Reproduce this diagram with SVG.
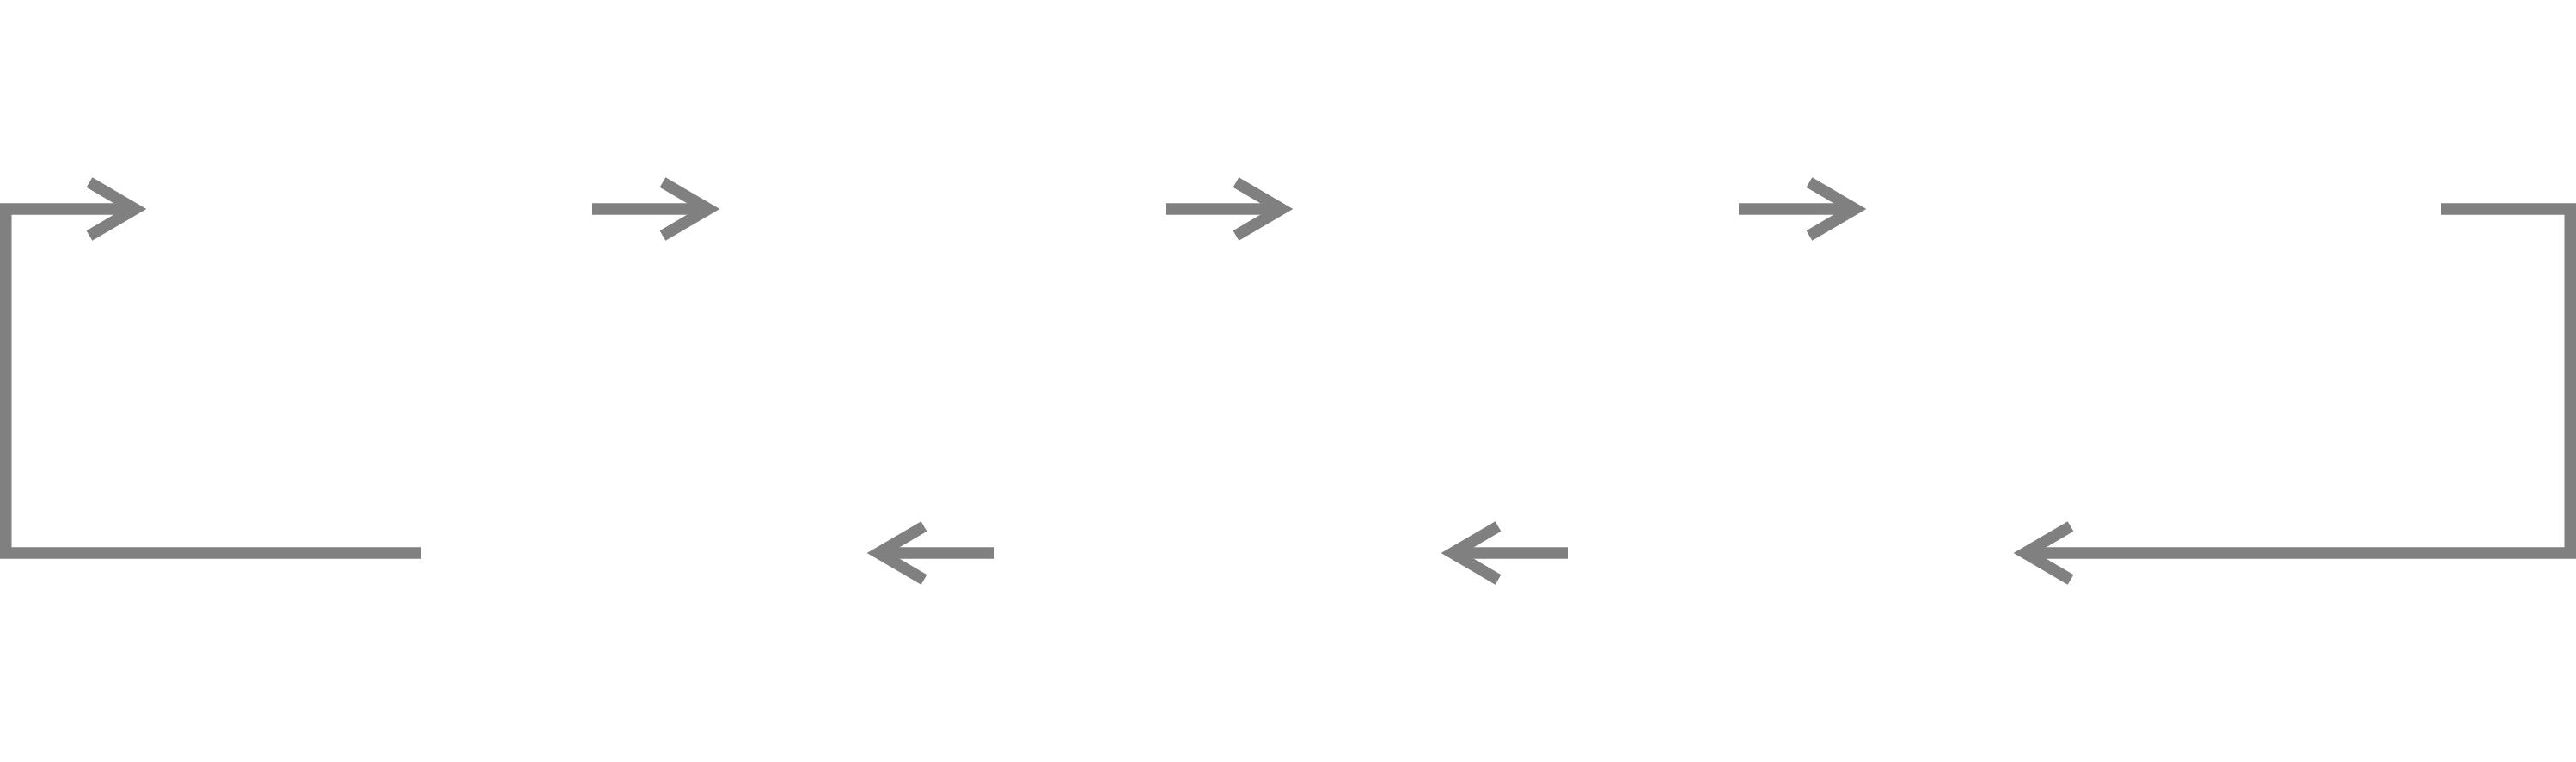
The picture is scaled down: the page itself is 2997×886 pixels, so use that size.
<svg xmlns="http://www.w3.org/2000/svg" width="2997" height="886" viewBox="0 0 2997 886">
<style>
.c{fill:none;stroke:#808080;stroke-width:13.5;stroke-linejoin:miter;stroke-linecap:butt;marker-end:url(#arr)}
</style>
<defs>
<marker id="arr" markerUnits="userSpaceOnUse" orient="auto" overflow="visible" refX="0" refY="0" markerWidth="1" markerHeight="1">
<path d="M-53,-31 L0,0 L-53,31" fill="none" stroke="#808080" stroke-width="13.5" stroke-linejoin="miter" stroke-miterlimit="10"/>
</marker>
</defs>
<rect width="2997" height="886" fill="#ffffff"/>
<g id="connectors">
<polyline class="c" points="490,643 6.75,643 6.75,243 157,243"/>
<polyline class="c" points="689,243 824,243"/>
<polyline class="c" points="1356,243 1491,243"/>
<polyline class="c" points="2023,243 2158,243"/>
<polyline class="c" points="2840,243 2990.25,243 2990.25,643 2356,643"/>
<polyline class="c" points="1824,643 1690,643"/>
<polyline class="c" points="1157,643 1022,643"/>
</g>
</svg>
